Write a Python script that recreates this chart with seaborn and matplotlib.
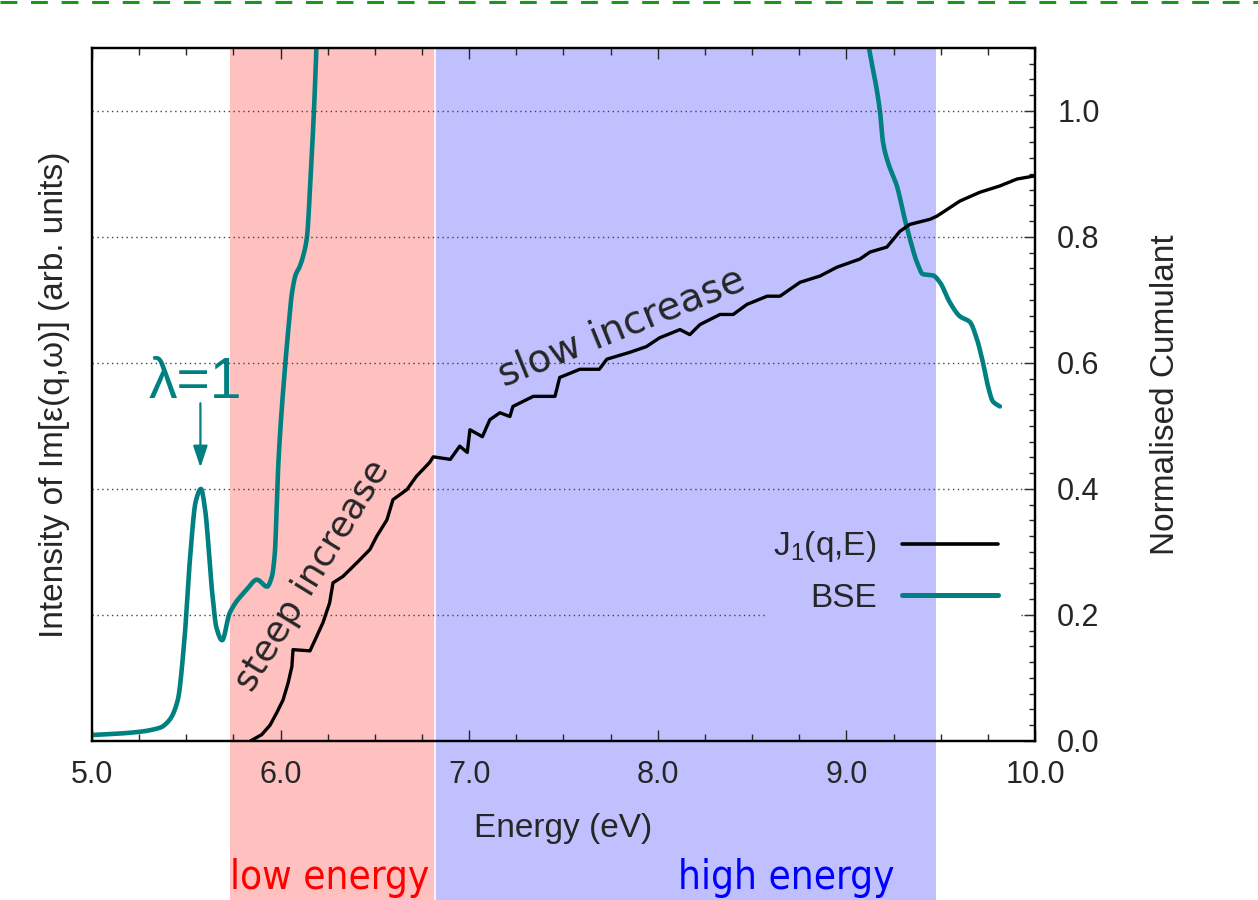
import numpy as np
import pandas as pd
import seaborn as sns
import matplotlib
matplotlib.use("Agg")
import matplotlib.pyplot as plt
from matplotlib import font_manager
from matplotlib.lines import Line2D
from matplotlib.ticker import MultipleLocator, FormatStrFormatter
import matplotlib.transforms as mtransforms

# ---------------------------------------------------------------- data
# BSE spectrum, Im[eps(q, w)] in arbitrary units (values above 1.1 run off the top)
bse_energy = [5.00, 5.20, 5.36, 5.41, 5.455, 5.49, 5.52, 5.55, 5.578, 5.60,
              5.636, 5.66, 5.69, 5.73, 5.82, 5.875, 5.928, 5.954, 5.97, 5.985,
              6.00, 6.02, 6.04, 6.06, 6.08, 6.10, 6.12, 6.14, 6.16, 6.177,
              6.19, 6.21, 6.24,
              9.00, 9.06, 9.12, 9.178, 9.194, 9.22, 9.268, 9.31, 9.337, 9.374,
              9.406, 9.459, 9.496, 9.549, 9.602, 9.655, 9.692, 9.724, 9.751,
              9.777, 9.814]
bse_intensity = [0.0095, 0.013, 0.021, 0.033, 0.065, 0.16, 0.29, 0.38, 0.40, 0.367,
                 0.24, 0.18, 0.16, 0.203, 0.24, 0.256, 0.245, 0.261, 0.30, 0.42,
                 0.50, 0.58, 0.65, 0.71, 0.74, 0.752, 0.77, 0.80, 0.90, 1.00,
                 1.10, 1.30, 1.50,
                 1.32, 1.20, 1.099, 1.00, 0.951, 0.919, 0.881, 0.828, 0.797, 0.76,
                 0.741, 0.739, 0.728, 0.696, 0.674, 0.665, 0.638, 0.601, 0.563,
                 0.539, 0.531]

# normalised cumulant J1(q, E)
j1_energy = [5.84, 5.90, 5.944, 5.98, 6.013, 6.04, 6.06, 6.066, 6.156, 6.19,
             6.225, 6.26, 6.278, 6.33, 6.405, 6.474, 6.51, 6.564, 6.596, 6.67,
             6.72, 6.79, 6.81, 6.90, 6.95, 6.99, 7.004, 7.07, 7.11, 7.163,
             7.216, 7.232, 7.34, 7.455, 7.48, 7.587, 7.69, 7.73, 7.853, 7.94,
             8.01, 8.118, 8.17, 8.224, 8.33, 8.40, 8.473, 8.58, 8.648, 8.754,
             8.86, 8.95, 9.072, 9.125, 9.215, 9.284, 9.337, 9.443, 9.48, 9.602,
             9.708, 9.814, 9.905, 10.0]
j1_cumulant = [0.0, 0.01, 0.025, 0.045, 0.065, 0.092, 0.118, 0.145, 0.143, 0.165,
               0.188, 0.219, 0.251, 0.261, 0.283, 0.304, 0.325, 0.351, 0.383, 0.399,
               0.42, 0.442, 0.451, 0.447, 0.468, 0.458, 0.494, 0.483, 0.51, 0.521,
               0.515, 0.531, 0.547, 0.547, 0.577, 0.59, 0.59, 0.606, 0.617, 0.626,
               0.64, 0.653, 0.645, 0.661, 0.677, 0.677, 0.693, 0.706, 0.706, 0.728,
               0.738, 0.752, 0.765, 0.776, 0.784, 0.809, 0.82, 0.828, 0.833, 0.857,
               0.871, 0.881, 0.892, 0.897]

# energy windows
low_window = (5.73, 6.82)
high_window = (6.82, 9.475)

x_ticks = [5.0, 6.0, 7.0, 8.0, 9.0, 10.0]
y_ticks = [0.0, 0.2, 0.4, 0.6, 0.8, 1.0]

TEAL = "#008080"
PINK = "#ffc0c0"
LAVENDER = "#c0c0ff"

# ---------------------------------------------------------------- style
sns.set_style("ticks")
available = {f.name for f in font_manager.fontManager.ttflist}
MAIN = "Liberation Sans" if "Liberation Sans" in available else "DejaVu Sans"
plt.rcParams["font.family"] = [MAIN, "DejaVu Sans"]
plt.rcParams["mathtext.fontset"] = "custom"
plt.rcParams["mathtext.rm"] = MAIN
plt.rcParams["mathtext.it"] = MAIN
plt.rcParams["mathtext.default"] = "regular"

# a narrow face for the window captions, if one is installed
narrow_file = None
for f in font_manager.fontManager.ttflist:
    fn = f.fname.lower()
    if ("narrow" in fn or "condensed" in fn) and "bold" not in fn and "oblique" not in fn \
            and "italic" not in fn and "mono" not in fn and "serif" not in fn:
        narrow_file = f.fname
        if "sans" in fn:
            break
if narrow_file:
    caption_font = font_manager.FontProperties(fname=narrow_file, size=29)
else:
    caption_font = font_manager.FontProperties(family=MAIN, size=28)


def pchip(x, y, xn):
    """Shape-preserving cubic interpolation used to draw the spectrum smoothly."""
    x = np.asarray(x, float)
    y = np.asarray(y, float)
    h = np.diff(x)
    d = np.diff(y) / h
    m = np.zeros_like(y)
    m[0], m[-1] = d[0], d[-1]
    for k in range(1, len(x) - 1):
        if d[k - 1] * d[k] > 0:
            w1 = 2 * h[k] + h[k - 1]
            w2 = h[k] + 2 * h[k - 1]
            m[k] = (w1 + w2) / (w1 / d[k - 1] + w2 / d[k])
    idx = np.clip(np.searchsorted(x, xn) - 1, 0, len(x) - 2)
    t = (xn - x[idx]) / h[idx]
    h00 = 2 * t**3 - 3 * t**2 + 1
    h10 = t**3 - 2 * t**2 + t
    h01 = -2 * t**3 + 3 * t**2
    h11 = t**3 - t**2
    return (h00 * y[idx] + h10 * h[idx] * m[idx]
            + h01 * y[idx + 1] + h11 * h[idx] * m[idx + 1])


e_fine = np.linspace(bse_energy[0], bse_energy[-1], 3000)
bse_df = pd.DataFrame({"energy": e_fine, "intensity": pchip(bse_energy, bse_intensity, e_fine)})
j1_df = pd.DataFrame({"energy": j1_energy, "cumulant": j1_cumulant})

# ---------------------------------------------------------------- figure
fig = plt.figure(figsize=(12.58, 9.0), dpi=100)
ax = fig.add_axes([0.0731, 0.1767, 0.7496, 0.7700])
ax2 = ax.twinx()

ax.set_xlim(5.0, 10.0)
ax.set_ylim(0.0, 1.1)
ax2.set_ylim(0.0, 1.1)

# shaded energy windows, continued down to the bottom edge of the figure
for (lo, hi), col in [(low_window, PINK), (high_window, LAVENDER)]:
    ax.axvspan(lo, hi, ymin=-0.26, ymax=1.0, color=col, lw=0, zorder=0, clip_on=False)
ax.axvline(low_window[1], ymin=-0.26, ymax=1.0, color="white", lw=1.2, zorder=0.5, clip_on=False)

# dotted grid at the cumulant ticks (the 0.2 line stops short of the key)
grid_kw = dict(color="#444444", ls=(0, (1, 2.5)), lw=1.0, zorder=0.8)
for yv in y_ticks[2:]:
    ax2.axhline(yv, **grid_kw)
ax2.axhline(0.2, xmin=0.0, xmax=0.715, **grid_kw)
ax2.axhline(0.2, xmin=0.985, xmax=1.0, **grid_kw)

# curves
sns.lineplot(data=bse_df, x="energy", y="intensity", ax=ax, color=TEAL, lw=3.3,
             legend=False, zorder=3)
sns.lineplot(data=j1_df, x="energy", y="cumulant", ax=ax2, color="black", lw=2.4,
             legend=False, zorder=3)

# axes cosmetics
for a in (ax, ax2):
    for s in a.spines.values():
        s.set_linewidth(1.6)
        s.set_color("black")
ax.set_xticks(x_ticks)
ax.xaxis.set_major_formatter(FormatStrFormatter("%.1f"))
ax.xaxis.set_minor_locator(MultipleLocator(0.25))
ax.tick_params(axis="x", which="both", direction="in", top=True, bottom=True,
               labelsize=22, pad=14, width=1.0)
ax.tick_params(axis="x", which="major", length=8)
ax.tick_params(axis="x", which="minor", length=5)
ax.tick_params(axis="y", which="both", left=False, labelleft=False)

ax2.set_yticks(y_ticks)
ax2.yaxis.set_major_formatter(FormatStrFormatter("%.1f"))
ax2.yaxis.set_minor_locator(MultipleLocator(0.025))
ax2.tick_params(axis="y", which="both", direction="in", right=True, labelsize=22,
                pad=16, width=1.0)
ax2.tick_params(axis="y", which="major", length=8)
ax2.tick_params(axis="y", which="minor", length=4)

ax.set_xlabel("Energy (eV)", fontsize=24, labelpad=16)
ax.set_ylabel("Intensity of Im[ε(q,ω)] (arb. units)", fontsize=24, labelpad=16)
ax2.set_ylabel("Normalised Cumulant", fontsize=24, labelpad=36)

# annotations
ax.text(5.55, 0.569, "λ=1", color=TEAL, fontsize=41, ha="center", va="center", zorder=5)
ax.annotate("", xy=(5.575, 0.434), xytext=(5.575, 0.536),
            arrowprops=dict(arrowstyle="-|>,head_length=0.6,head_width=0.2",
                            color=TEAL, lw=1.6, mutation_scale=22,
                            shrinkA=0, shrinkB=0), zorder=5)
ax2.text(6.17, 0.262, "steep increase", rotation=58.5, rotation_mode="anchor",
         ha="center", va="center", fontsize=26, family="DejaVu Sans", zorder=5)
ax2.text(7.81, 0.657, "slow increase", rotation=22, rotation_mode="anchor",
         ha="center", va="center", fontsize=28, family="DejaVu Sans", zorder=5)

# key
handles = [Line2D([], [], color="black", lw=2.6), Line2D([], [], color=TEAL, lw=3.6)]
ax2.legend(handles, ["J$_1$(q,E)", "BSE"], loc="center right",
           bbox_to_anchor=(0.961, 0.2445), frameon=False, markerfirst=False,
           fontsize=24, handlelength=2.9, handletextpad=0.75, labelspacing=0.55,
           borderpad=0, borderaxespad=0)

# window captions below the axis
blend = mtransforms.blended_transform_factory(ax.transData, fig.transFigure)
fig.text(6.262, 0.012, "low energy", transform=blend, color="red",
         fontproperties=caption_font, ha="center", va="baseline")
fig.text(8.68, 0.012, "high energy", transform=blend, color="blue",
         fontproperties=caption_font, ha="center", va="baseline")

# dashed separator along the top edge
fig.add_artist(Line2D([0, 1], [0.9975, 0.9975], transform=fig.transFigure,
                      color="#1a961a", lw=2.2, ls=(0, (5.5, 4.5))))

fig.savefig("out.png", dpi=100)
